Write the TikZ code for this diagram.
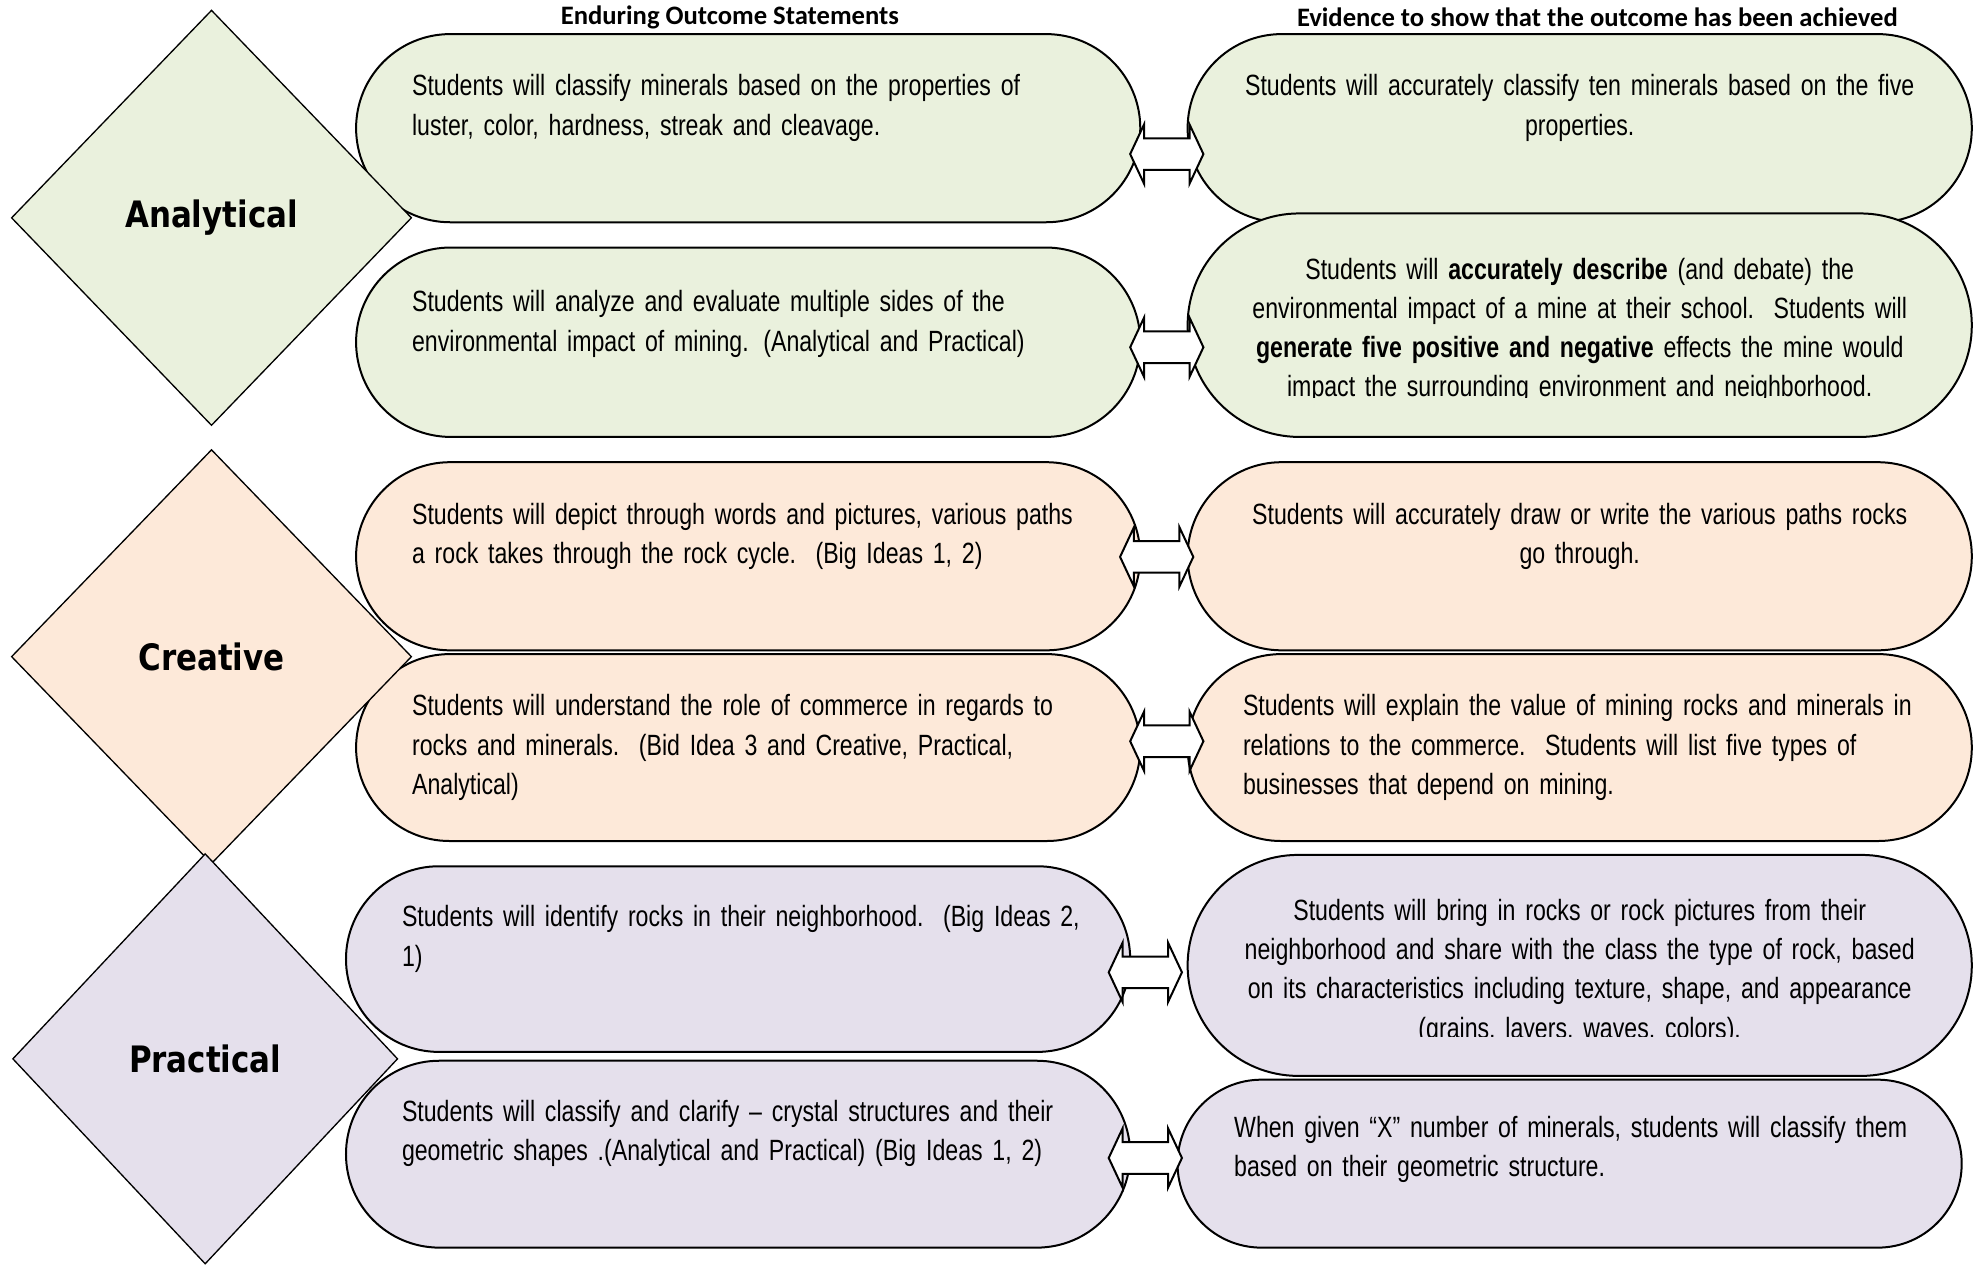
\documentclass[tikz,border=0pt]{standalone}
\usepackage{fontspec}
\setmainfont{Liberation Sans}[FakeStretch=0.79]
\newfontfamily\headfont{Carlito}
\newfontfamily\catfont{DejaVu Sans}[FakeStretch=0.85]
\usetikzlibrary{shapes.geometric,shapes.misc}

\definecolor{anagreen}{HTML}{EAF1DD}
\definecolor{crepeach}{HTML}{FDE9D9}
\definecolor{pralilac}{HTML}{E5E0EC}

\begin{document}
\begin{tikzpicture}[
    x=0.2mm, y=-0.2mm,
    pill/.style={rounded rectangle, draw=black, line width=0.9pt, minimum width=124.2mm, inner sep=0pt},
    category/.style={diamond, draw=black, line width=0.6pt, inner sep=0pt, font=\catfont\bfseries\fontsize{16.4}{18}\selectfont},
    heading/.style={font=\headfont\bfseries\fontsize{12}{14}\selectfont},
    lefttext/.style={anchor=base west, align=left, text width=125mm, inner sep=0pt, font=\fontsize{13.2}{17.64}\selectfont},
    midtext/.style={anchor=base, align=center, text width=125mm, inner sep=0pt, font=\fontsize{13.2}{17.64}\selectfont},
    twoway/.style={draw=black, fill=white, line width=0.9pt, line join=miter}
]
    \useasboundingbox (0,0) rectangle (1568,1001);

    % Outcome and evidence shapes
    \node[pill, fill=anagreen, minimum height=29.8mm] (r1l) at (592.5,101.5) {};
    \node[pill, fill=anagreen, minimum height=29.8mm] (r1r) at (1251,101.5) {};
    \node[pill, fill=anagreen, minimum height=30mm] (r2l) at (592.5,271) {};
    \node[pill, fill=anagreen, minimum height=35.4mm] (r2r) at (1251,257.5) {};
    \node[pill, fill=crepeach, minimum height=29.8mm] (r3l) at (592.5,440.5) {};
    \node[pill, fill=crepeach, minimum height=29.8mm] (r3r) at (1251,440.5) {};
    \node[pill, fill=crepeach, minimum height=29.6mm] (r4l) at (592.5,592) {};
    \node[pill, fill=crepeach, minimum height=29.6mm] (r4r) at (1251,592) {};
    \node[pill, fill=pralilac, minimum height=29.4mm] (r5l) at (584.5,759.5) {};
    \node[pill, fill=pralilac, minimum height=35mm] (r5r) at (1251,764.5) {};
    \node[pill, fill=pralilac, minimum height=29.6mm] (r6l) at (584.5,914) {};
    \node[pill, fill=pralilac, minimum height=26.6mm] (r6r) at (1243,921.5) {};

    % Double arrows
    \coordinate (a1) at (924,122);
    \coordinate (a2) at (924,275);
    \coordinate (a3) at (916,441);
    \coordinate (a4) at (924,587);
    \coordinate (a5) at (907,770);
    \coordinate (a6) at (907,917);
    \foreach \c in {a1,a2,a3,a4,a5,a6}
        \draw[twoway, shift={(\c)}] (-29,0) -- (-18,-23.5) -- (-18,-12.5) -- (18,-12.5) -- (18,-23.5) -- (29,0)
            -- (18,23.5) -- (18,12.5) -- (-18,12.5) -- (-18,23.5) -- cycle;

    % Categories
    \node[category, fill=anagreen, minimum width=63.4mm, minimum height=65.8mm] (analytical) at (167.5,172.5) {Analytical};
    \node[category, fill=crepeach, minimum width=63.4mm, minimum height=65.6mm] (creative) at (167.5,520) {Creative};
    \node[category, fill=pralilac, minimum width=61mm, minimum height=65mm] (practical) at (162.5,838.5) {Practical};

    % Column headings
    \node[heading] (outhead) at (578,14) {Enduring Outcome Statements};
    \node[heading] (evihead) at (1265,14) {Evidence to show that the outcome has been achieved};

    % Texts
    \node[lefttext] (t1l) at (326,76) {Students will classify minerals based on the properties of\\luster, color, hardness, streak and cleavage.};
    \node[midtext] (t1r) at (1251,76) {Students will accurately classify ten minerals based on the five\\properties.};
    \node[lefttext] (t2l) at (326,247) {Students will analyze and evaluate multiple sides of the\\environmental impact of mining. (Analytical and Practical)};
    \begin{scope}
        \clip (941,169) rectangle (1561,315);
        \node[midtext] (t2r) at (1251,221) {Students will \textbf{accurately describe} (and debate) the\\environmental impact of a mine at their school.\ \ Students will\\\textbf{generate five positive and negative} effects the mine would\\impact the surrounding environment and neighborhood.};
    \end{scope}
    \node[lefttext] (t3l) at (326,415) {Students will depict through words and pictures, various paths\\a rock takes through the rock cycle.\ \ (Big Ideas 1, 2)};
    \node[midtext] (t3r) at (1251,415) {Students will accurately draw or write the various paths rocks\\go through.};
    \node[lefttext] (t4l) at (326,567) {Students will understand the role of commerce in regards to\\rocks and minerals.\ \ (Bid Idea 3 and Creative, Practical,\\Analytical)};
    \node[lefttext] (t4r) at (984,567) {Students will explain the value of mining rocks and minerals in\\relations to the commerce.\ \ Students will list five types of\\businesses that depend on mining.};
    \node[lefttext] (t5l) at (318,734) {Students will identify rocks in their neighborhood.\ \ (Big Ideas 2,\\1)};
    \begin{scope}
        \clip (941,677) rectangle (1561,821);
        \node[midtext] (t5r) at (1251,729) {Students will bring in rocks or rock pictures from their\\neighborhood and share with the class the type of rock, based\\on its characteristics including texture, shape, and appearance\\(grains, layers, waves, colors).};
    \end{scope}
    \node[lefttext] (t6l) at (318,888) {Students will classify and clarify -- crystal structures and their\\geometric shapes .(Analytical and Practical) (Big Ideas 1, 2)};
    \node[lefttext] (t6r) at (977,901) {When given “X” number of minerals, students will classify them\\based on their geometric structure.};
\end{tikzpicture}
\end{document}
